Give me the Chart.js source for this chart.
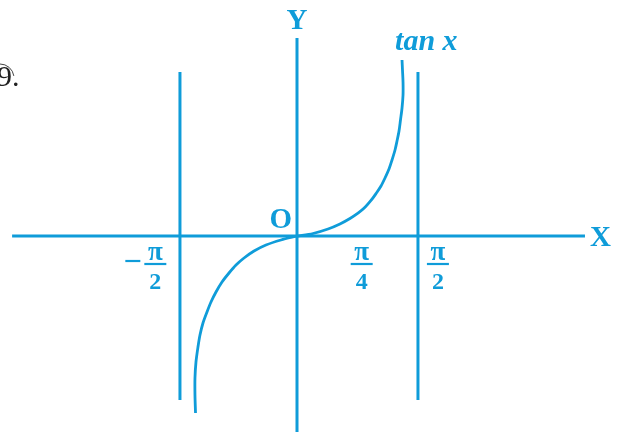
<!DOCTYPE html>
<html>
<head>
<meta charset="utf-8">
<script src="https://cdn.jsdelivr.net/npm/chart.js@4.4.1/dist/chart.umd.min.js"></script>
<style>
  html, body { margin: 0; padding: 0; background: #fff; }
</style>
</head>
<body>
<canvas id="tanChart" width="633" height="432"></canvas>
<script>
// curve: x in radians, y = tan x (as drawn)
var lowerX = [-1.318, -1.325, -1.325, -1.312, -1.286, -1.260, -1.221, -1.169, -1.117, -1.052, -0.974, -0.883, -0.792, -0.688, -0.558, -0.403, -0.208, 0];
var lowerY = [-5.364, -4.818, -4.303, -3.818, -3.364, -3.0, -2.636, -2.303, -2.0, -1.697, -1.394, -1.121, -0.879, -0.667, -0.455, -0.273, -0.121, 0];
var upperX = [0, 0.208, 0.403, 0.558, 0.688, 0.792, 0.883, 0.961, 1.026, 1.091, 1.143, 1.195, 1.234, 1.273, 1.299, 1.325, 1.344, 1.364, 1.377, 1.377, 1.370, 1.364];
var upperY = [0, 0.076, 0.212, 0.364, 0.530, 0.690, 0.870, 1.076, 1.285, 1.515, 1.758, 2.030, 2.303, 2.606, 2.879, 3.182, 3.515, 3.879, 4.273, 4.667, 5.030, 5.333];

// axes and asymptotes
var xAxisRange = [-3.70, 3.74];
var yAxisRange = [-5.94, 6.0];
var asymptotes = [-1.52, 1.571];
var asymRange = [-4.97, 4.97];

// tick labels (sign, numerator, denominator) and where they sit
var tickLabels = [['\u2212', '\u03c0', '2'], ['', '\u03c0', '4'], ['', '\u03c0', '2']];
var tickPos = [-1.84, 0.84, 1.83];

var blue = '#0f9cd9';

function pts(xs, ys) {
  return xs.map(function(x, i) { return { x: x, y: ys[i] }; });
}

function lineSet(data, w) {
  return {
    data: data,
    showLine: true,
    borderColor: blue,
    borderWidth: w,
    pointRadius: 0,
    fill: false
  };
}

var datasets = [
  lineSet([{ x: xAxisRange[0], y: 0 }, { x: xAxisRange[1], y: 0 }], 3),
  lineSet([{ x: 0, y: yAxisRange[0] }, { x: 0, y: yAxisRange[1] }], 3),
  lineSet([{ x: asymptotes[0], y: asymRange[0] }, { x: asymptotes[0], y: asymRange[1] }], 3),
  lineSet([{ x: asymptotes[1], y: asymRange[0] }, { x: asymptotes[1], y: asymRange[1] }], 3)
];
var lower = lineSet(pts(lowerX, lowerY), 2.8);
lower.tension = 0.3;
var upper = lineSet(pts(upperX, upperY), 2.8);
upper.tension = 0.3;
datasets.push(lower, upper);

var labelPlugin = {
  id: 'labels',
  afterDatasetsDraw: function(chart) {
    var ctx = chart.ctx;
    var sx = chart.scales.x, sy = chart.scales.y;
    ctx.save();
    ctx.fillStyle = blue;
    ctx.textAlign = 'center';
    ctx.textBaseline = 'alphabetic';

    ctx.font = 'bold 29px "Liberation Serif", "DejaVu Serif", serif';
    ctx.fillText('Y', sx.getPixelForValue(0), 29);
    ctx.fillText('X', sx.getPixelForValue(3.94), sy.getPixelForValue(0) + 10);
    ctx.fillText('O', sx.getPixelForValue(-0.21), sy.getPixelForValue(0) - 8);

    ctx.font = 'italic bold 30px "Liberation Serif", "DejaVu Serif", serif';
    ctx.fillText('tan x', sx.getPixelForValue(1.68), 50);

    // fractions under the x axis
    var y0 = sy.getPixelForValue(0);
    ctx.strokeStyle = blue;
    ctx.lineWidth = 2.2;
    tickLabels.forEach(function(t, i) {
      var cx = sx.getPixelForValue(tickPos[i]);
      ctx.font = 'bold 27px "Liberation Serif", "DejaVu Serif", serif';
      ctx.fillText(t[1], cx, y0 + 24);
      ctx.beginPath();
      ctx.moveTo(cx - 11, y0 + 28);
      ctx.lineTo(cx + 11, y0 + 28);
      ctx.stroke();
      ctx.font = 'bold 24px "Liberation Serif", "DejaVu Serif", serif';
      ctx.fillText(t[2], cx, y0 + 53);
      if (t[0]) {
        ctx.beginPath();
        ctx.moveTo(cx - 30, y0 + 25);
        ctx.lineTo(cx - 15, y0 + 25);
        ctx.stroke();
      }
    });

    // question number, cut at the left edge
    ctx.fillStyle = '#222';
    ctx.strokeStyle = '#444';
    ctx.lineWidth = 1;
    ctx.font = '30px "Liberation Serif", serif';
    ctx.textAlign = 'right';
    ctx.fillText('9', 12, 86);
    ctx.textAlign = 'left';
    ctx.fillText('.', 12, 86);
    ctx.beginPath();
    ctx.arc(0, 78, 14, -Math.PI / 2, -0.15);
    ctx.stroke();
    ctx.restore();
  }
};

new Chart(document.getElementById('tanChart').getContext('2d'), {
  type: 'scatter',
  data: { datasets: datasets },
  options: {
    responsive: false,
    animation: false,
    layout: { padding: 0 },
    plugins: { legend: { display: false }, tooltip: { enabled: false } },
    scales: {
      x: { type: 'linear', min: -297 / 77, max: 336 / 77, display: false },
      y: { type: 'linear', min: -196 / 33, max: 236 / 33, display: false }
    }
  },
  plugins: [labelPlugin]
});
</script>
</body>
</html>
